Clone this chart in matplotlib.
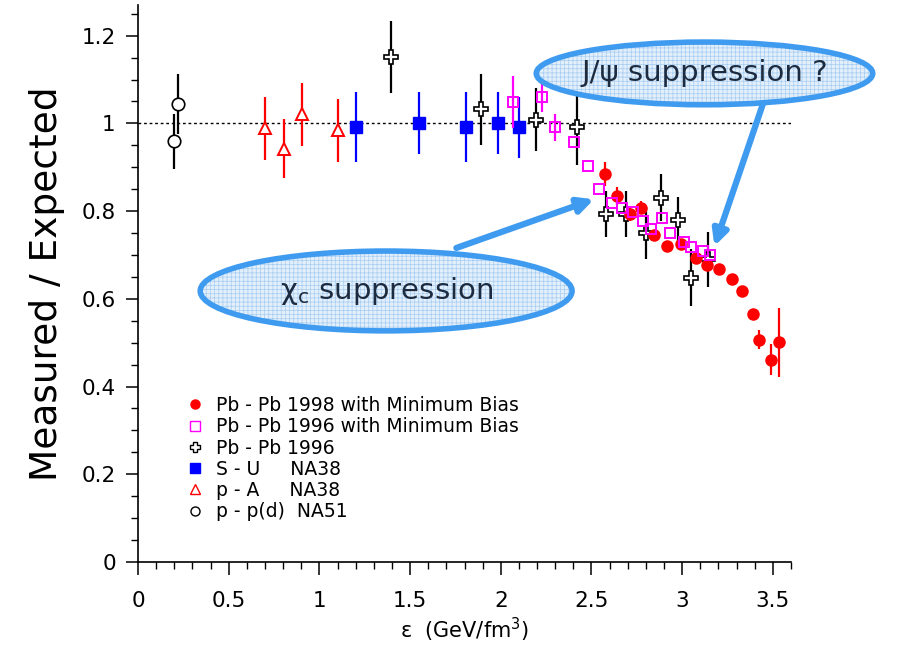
import matplotlib
matplotlib.use("Agg")
import matplotlib.pyplot as plt
from matplotlib.lines import Line2D
from matplotlib.patches import Ellipse
from matplotlib.ticker import MultipleLocator, FormatStrFormatter

# ----------------------------
# DATA
# ----------------------------
pp_x          = [0.22, 0.20]
pp_y          = [1.044, 0.959]
pp_err        = [0.068, 0.063]

pa_x          = [0.70, 0.805, 0.903, 1.10]
pa_y          = [0.989, 0.942, 1.021, 0.984]
pa_err        = [0.072, 0.067, 0.072, 0.071]

su_x          = [1.203, 1.55, 1.809, 1.986, 2.099]
su_y          = [0.991, 1.001, 0.991, 1.001, 0.991]
su_err        = [0.08, 0.07, 0.08, 0.07, 0.07]

pb96_x        = [1.397, 1.89, 2.194, 2.421, 2.582, 2.693, 2.80, 2.885, 2.977, 3.046, 3.14]
pb96_y        = [1.151, 1.032, 1.008, 0.991, 0.793, 0.794, 0.75, 0.831, 0.78, 0.648, 0.69]
pb96_err      = [0.082, 0.081, 0.072, 0.085, 0.053, 0.053, 0.06, 0.054, 0.052, 0.065, 0.062]

pb96mb_x      = [2.069, 2.23, 2.298, 2.405, 2.479, 2.54, 2.613, 2.671, 2.727, 2.783,
                 2.828, 2.89, 2.933, 3.008, 3.049, 3.115, 3.155]
pb96mb_y      = [1.049, 1.061, 0.991, 0.957, 0.902, 0.851, 0.818, 0.808, 0.798, 0.778,
                 0.76, 0.785, 0.75, 0.729, 0.719, 0.71, 0.699]
pb96mb_err    = [0.06, 0.035, 0.03, 0, 0, 0, 0, 0, 0, 0, 0, 0, 0, 0, 0, 0, 0]

pb98_x        = [2.572, 2.641, 2.712, 2.772, 2.843, 2.914, 2.993, 3.077, 3.137, 3.203,
                 3.277, 3.329, 3.389, 3.426, 3.49, 3.532]
pb98_y        = [0.885, 0.835, 0.793, 0.808, 0.745, 0.721, 0.725, 0.693, 0.678, 0.668,
                 0.645, 0.617, 0.566, 0.507, 0.461, 0.501]
pb98_err      = [0.027, 0.02, 0.015, 0.015, 0.01, 0.01, 0.01, 0.01, 0.01, 0.01,
                 0.01, 0.01, 0.01, 0.022, 0.035, 0.079]

legend_labels = ["Pb - Pb 1998 with Minimum Bias",
                 "Pb - Pb 1996 with Minimum Bias",
                 "Pb - Pb 1996",
                 "S - U     NA38",
                 "p - A     NA38",
                 "p - p(d)  NA51"]

# ----------------------------
# CHART
# ----------------------------
plt.rcParams["hatch.linewidth"] = 0.5

fig = plt.figure(figsize=(8.99, 6.53), dpi=100)
ax  = fig.add_axes([138 / 899, 1 - 562 / 653, 653 / 899, 557 / 653])

ax.axhline(1.0, color="black", linestyle=(0, (2, 2)), linewidth=1.0, zorder=1)

eb_kw = dict(linestyle="none", capsize=0, elinewidth=1.6)

ax.errorbar(su_x, su_y, yerr=su_err, marker="s", ms=9, color="#0000ff",
            mfc="#0000ff", mec="#0000ff", zorder=3, **eb_kw)
ax.errorbar(pa_x, pa_y, yerr=pa_err, marker="^", ms=9, color="#ff0000",
            mfc="white", mec="#ff0000", mew=1.4, zorder=3, **eb_kw)
ax.errorbar(pp_x, pp_y, yerr=pp_err, marker="o", ms=9, color="black",
            mfc="white", mec="black", mew=1.2, zorder=3, **eb_kw)
ax.errorbar(pb96_x, pb96_y, yerr=pb96_err, marker="P", ms=10, color="black",
            mfc="white", mec="black", mew=1.2, zorder=4, **eb_kw)
ax.errorbar(pb98_x, pb98_y, yerr=pb98_err, marker="o", ms=8, color="#ff0000",
            mfc="#ff0000", mec="#ff0000", zorder=5, **eb_kw)
ax.errorbar(pb96mb_x, pb96mb_y, yerr=pb96mb_err, marker="s", ms=7, color="#ff00ff",
            mfc="none", mec="#ff00ff", mew=1.4, zorder=6, **eb_kw)

ax.set_xlim(0, 3.6)
ax.set_ylim(0, 1.27)

for side in ["top", "right"]:
    ax.spines[side].set_visible(False)
ax.spines["left"].set_linewidth(1.2)
ax.spines["bottom"].set_linewidth(1.2)

ax.xaxis.set_major_locator(MultipleLocator(0.5))
ax.xaxis.set_minor_locator(MultipleLocator(0.1))
ax.yaxis.set_major_locator(MultipleLocator(0.2))
ax.yaxis.set_minor_locator(MultipleLocator(0.05))
ax.xaxis.set_major_formatter(FormatStrFormatter("%g"))
ax.yaxis.set_major_formatter(FormatStrFormatter("%g"))
ax.tick_params(which="major", direction="out", length=9, width=1.1, labelsize=15.5)
ax.tick_params(axis="x", which="major", pad=12)
ax.tick_params(axis="y", which="major", pad=7)
ax.tick_params(which="minor", direction="out", length=5, width=1.0)

ax.set_ylabel("Measured / Expected", fontsize=27, labelpad=12)
ax.set_xlabel("ε  (GeV/fm$^{3}$)", fontsize=15, labelpad=3)

# ----------------------------
# LEGEND
# ----------------------------
handles = [
    Line2D([], [], linestyle="none", marker="o", ms=6.5, color="#ff0000"),
    Line2D([], [], linestyle="none", marker="s", ms=6.5, mfc="white", mec="#ff00ff", mew=1.0),
    Line2D([], [], linestyle="none", marker="P", ms=7.5, mfc="white", mec="black", mew=1.0),
    Line2D([], [], linestyle="none", marker="s", ms=6.5, color="#0000ff"),
    Line2D([], [], linestyle="none", marker="^", ms=6.5, mfc="white", mec="#ff0000", mew=1.0),
    Line2D([], [], linestyle="none", marker="o", ms=6.5, mfc="white", mec="black", mew=1.0),
]
ax.legend(handles, legend_labels, loc="upper left",
          bbox_to_anchor=((186 - 138) / 653, (562 - 396) / 557),
          frameon=False, fontsize=13.5, handlelength=1.0, handletextpad=0.6,
          labelspacing=0.12, borderpad=0, borderaxespad=0)

# ----------------------------
# ANNOTATION BUBBLES
# ----------------------------
blue_edge = "#3f9bef"
bubbles = [
    ((3.123, 1.114), 1.855, 0.143, "J/ψ suppression ?"),
    ((1.368, 0.618), 2.05, 0.182, "χ$_{\\rm c}$ suppression"),
]
for (cx, cy), w, h, txt in bubbles:
    ax.add_patch(Ellipse((cx, cy), w, h, facecolor="#e3effb", edgecolor="#a6cdf2",
                         hatch="++++", linewidth=0, clip_on=False, zorder=8))
    ax.add_patch(Ellipse((cx, cy), w, h, facecolor="none", edgecolor=blue_edge,
                         linewidth=4, clip_on=False, zorder=9))
    ax.text(cx, cy, txt, ha="center", va="center", fontsize=21, color="#1c2b3f",
            zorder=10, clip_on=False)

arrow_kw = dict(arrowstyle="-|>,head_length=0.9,head_width=0.45", color=blue_edge,
                lw=4.5, shrinkA=0, shrinkB=0)
ax.annotate("", xy=(3.178, 0.720), xytext=(3.444, 1.043),
            arrowprops=arrow_kw, annotation_clip=False, zorder=7)
ax.annotate("", xy=(2.514, 0.827), xytext=(1.755, 0.716),
            arrowprops=arrow_kw, annotation_clip=False, zorder=7)

fig.savefig("out.png", dpi=100)
